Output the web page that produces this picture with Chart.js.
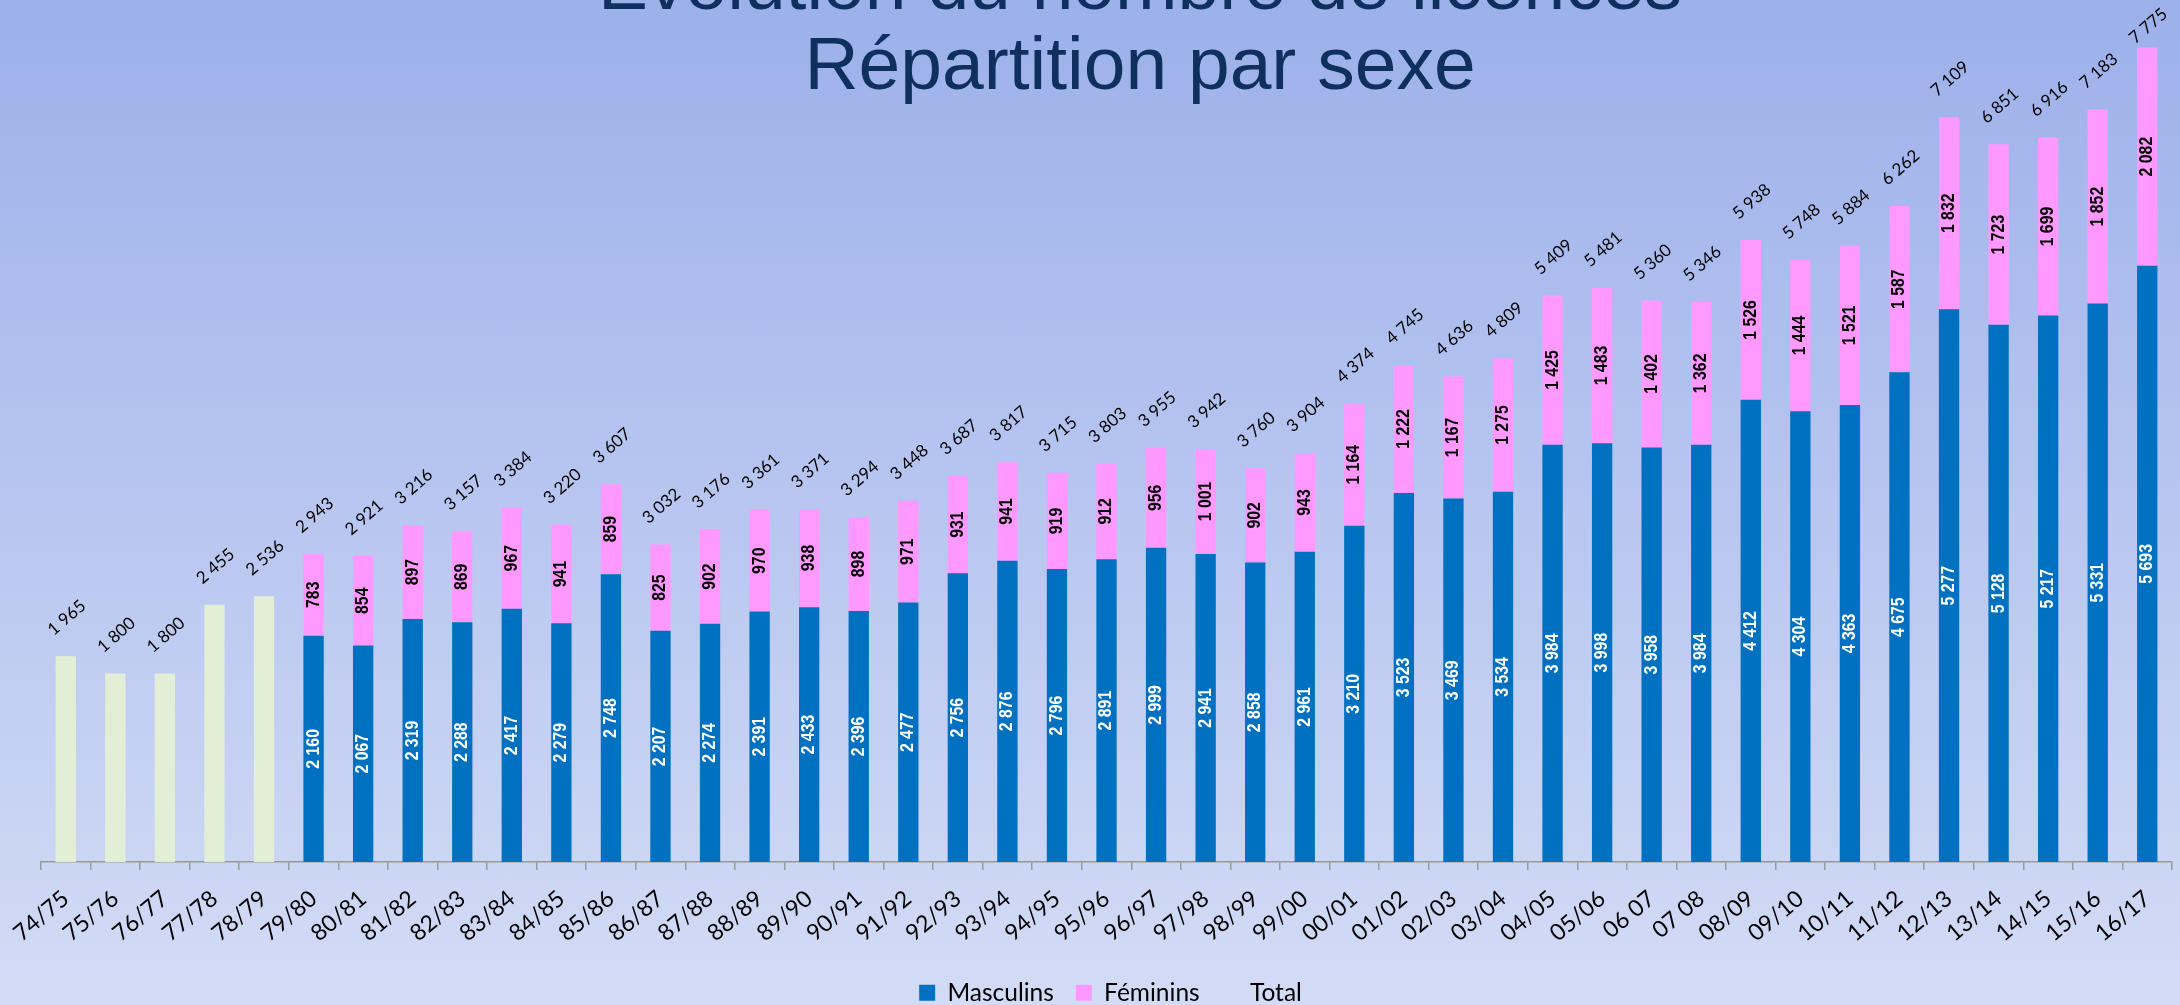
<!DOCTYPE html>
<html lang="fr">
<head>
<meta charset="utf-8">
<title>Évolution du nombre de licences - Répartition par sexe</title>
<script src="https://cdn.jsdelivr.net/npm/chart.js@4.4.1/dist/chart.umd.min.js"></script>
<style>
  html, body { margin: 0; padding: 0; }
  body {
    width: 2180px; height: 1005px; overflow: hidden;
    background: linear-gradient(to bottom, #9cb0ea 0%, #d3dcf6 100%);
  }
  #wrap { position: relative; width: 2180px; height: 1005px; }
</style>
</head>
<body>
<div id="wrap"><canvas id="chart"></canvas></div>
<script>
// ===== data =====
const seasons = ['74/75', '75/76', '76/77', '77/78', '78/79', '79/80', '80/81', '81/82', '82/83', '83/84',
  '84/85', '85/86', '86/87', '87/88', '88/89', '89/90', '90/91', '91/92', '92/93', '93/94',
  '94/95', '95/96', '96/97', '97/98', '98/99', '99/00', '00/01', '01/02', '02/03', '03/04',
  '04/05', '05/06', '06 07', '07 08', '08/09', '09/10', '10/11', '11/12', '12/13', '13/14',
  '14/15', '15/16', '16/17'];

const masculins = [null, null, null, null, null, 2160, 2067, 2319, 2288, 2417,
  2279, 2748, 2207, 2274, 2391, 2433, 2396, 2477, 2756, 2876,
  2796, 2891, 2999, 2941, 2858, 2961, 3210, 3523, 3469, 3534,
  3984, 3998, 3958, 3984, 4412, 4304, 4363, 4675, 5277, 5128,
  5217, 5331, 5693];

const feminins = [null, null, null, null, null, 783, 854, 897, 869, 967,
  941, 859, 825, 902, 970, 938, 898, 971, 931, 941,
  919, 912, 956, 1001, 902, 943, 1164, 1222, 1167, 1275,
  1425, 1483, 1402, 1362, 1526, 1444, 1521, 1587, 1832, 1723,
  1699, 1852, 2082];

const totals = [1965, 1800, 1800, 2455, 2536, 2943, 2921, 3216, 3157, 3384,
  3220, 3607, 3032, 3176, 3361, 3371, 3294, 3448, 3687, 3817,
  3715, 3803, 3955, 3942, 3760, 3904, 4374, 4745, 4636, 4809,
  5409, 5481, 5360, 5346, 5938, 5748, 5884, 6262, 7109, 6851,
  6916, 7183, 7775];

// the first seasons only have a total (no split by sex)
const totalBars = totals.map((v, i) => masculins[i] === null ? v : null);

const titleLines = ['Évolution du nombre de licences', 'Répartition par sexe'];

// ===== layout constants =====
const AXIS_Y = 862;
const PAD_BOTTOM = -10;

function fmt(v) {
  return String(v).replace(/\B(?=(\d{3})+(?!\d))/g, ' ');
}

function drawText(ctx, text, x, y, angle, font, color, sx) {
  ctx.save();
  ctx.translate(x, y);
  ctx.rotate(angle);
  if (sx) ctx.scale(sx, 1);
  ctx.font = font;
  ctx.fillStyle = color;
  ctx.textAlign = 'center';
  ctx.textBaseline = 'middle';
  ctx.fillText(text, 0, 0);
  ctx.restore();
}

// ===== value labels + title =====
const labelPlugin = {
  id: 'valueLabels',
  afterDatasetsDraw(chart) {
    const ctx = chart.ctx;
    const xs = chart.scales.x, ys = chart.scales.y;
    const inner = 'bold 18px "Liberation Sans", Arial, sans-serif';
    seasons.forEach((s, i) => {
      const x = xs.getPixelForValue(i);
      if (masculins[i] !== null) {
        const yM = ys.getPixelForValue(masculins[i] / 2);
        drawText(ctx, fmt(masculins[i]), x, yM, -Math.PI / 2, inner, '#ffffff', 0.88);
        const yF = ys.getPixelForValue(masculins[i] + feminins[i] / 2);
        drawText(ctx, fmt(feminins[i]), x, yF, -Math.PI / 2, inner, '#000000', 0.88);
      }
      const top = ys.getPixelForValue(totals[i]);
      const cy = Math.max(top - 38.5, 26);
      drawText(ctx, fmt(totals[i]), x + 1, cy, -41 * Math.PI / 180,
        '17px Lato, "Open Sans", sans-serif', '#000000');
    });
  },
  afterDraw(chart) {
    const ctx = chart.ctx;
    ctx.save();
    ctx.font = '75px "Liberation Sans", Arial, sans-serif';
    ctx.fillStyle = '#0f2f5e';
    ctx.textAlign = 'center';
    ctx.textBaseline = 'alphabetic';
    ctx.fillText(titleLines[0], 1140, 9);
    ctx.fillText(titleLines[1], 1140, 89);
    ctx.restore();
  }
};

const ctx = document.getElementById('chart').getContext('2d');
new Chart(ctx, {
  type: 'bar',
  data: {
    labels: seasons,
    datasets: [{
      label: 'Masculins',
      data: masculins,
      backgroundColor: '#0070c0',
      stack: 's'
    }, {
      label: 'Féminins',
      data: feminins,
      backgroundColor: '#ff99ff',
      stack: 's'
    }, {
      label: 'Total',
      data: totalBars,
      backgroundColor: '#e3eed7',
      stack: 's'
    }]
  },
  options: {
    responsive: true,
    maintainAspectRatio: false,
    animation: false,
    datasets: {
      bar: { barPercentage: 0.41, categoryPercentage: 1.0, borderWidth: 0 }
    },
    layout: { padding: { left: 41, right: 0, top: 24, bottom: PAD_BOTTOM } },
    plugins: {
      title: { display: false },
      tooltip: { enabled: false },
      legend: {
        display: true,
        position: 'bottom',
        labels: {
          color: '#000000',
          font: { family: 'Lato, "Open Sans", sans-serif', size: 24.5 },
          boxWidth: 16,
          boxHeight: 16,
          padding: 22,
          generateLabels(chart) {
            const items = Chart.defaults.plugins.legend.labels.generateLabels(chart);
            items.forEach(it => {
              it.lineWidth = 0;
              if (it.text === 'Total') {
                it.fillStyle = 'rgba(0,0,0,0)';
                it.strokeStyle = 'rgba(0,0,0,0)';
              }
            });
            return items;
          }
        }
      }
    },
    scales: {
      x: {
        stacked: true,
        offset: true,
        grid: {
          display: true,
          drawOnChartArea: false,
          drawTicks: true,
          tickLength: 8,
          offset: true,
          color: '#999999',
          lineWidth: 1.5
        },
        border: { display: true, color: '#999999', width: 1.5 },
        ticks: {
          autoSkip: false,
          maxRotation: 40,
          minRotation: 40,
          color: '#000000',
          font: { family: 'Lato, "Open Sans", sans-serif', size: 23 },
          padding: 15,
          labelOffset: 0
        },
        afterFit(scale) {
          scale.height = scale.chart.height - PAD_BOTTOM - AXIS_Y - scale.chart.legend.height;
        }
      },
      y: {
        stacked: true,
        display: false,
        min: 0,
        max: 8000
      }
    }
  },
  plugins: [labelPlugin]
});
</script>
</body>
</html>
